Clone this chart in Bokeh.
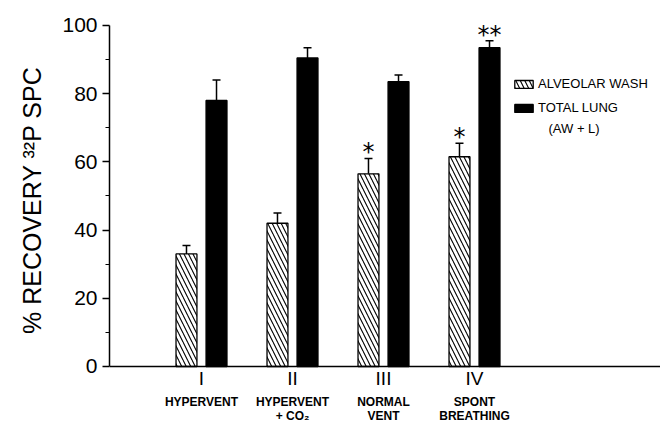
from bokeh.plotting import figure
from bokeh.models import (Range1d, FixedTicker, Whisker, TeeHead, ColumnDataSource,
                          Legend, LegendItem, Label, Span)
from bokeh.core.properties import value
from bokeh.embed import file_html
from bokeh.resources import INLINE

# ---- data ----
groups = ["I", "II", "III", "IV"]
group_line1 = ["HYPERVENT", "HYPERVENT", "NORMAL", "SPONT"]
group_line2 = ["", "+ CO\u2082", "VENT", "BREATHING"]
alveolar_wash = [33, 42, 56.5, 61.5]
alveolar_wash_err = [2.5, 3, 4.5, 4]
total_lung = [78, 90.5, 83.5, 93.5]
total_lung_err = [6, 3, 2, 2]
aw_marks = ["", "", "*", "*"]
tl_marks = ["", "", "", "**"]
y_ticks = [0, 20, 40, 60, 80, 100]
y_minor = [10, 30, 50, 70, 90]
y_title = "% RECOVERY \u00b3\u00b2P SPC"

FONT = "Liberation Sans"
off = 0.165
bw = 0.23

xc = [i + 1 for i in range(len(groups))]
x_aw = [x - off for x in xc]
x_tl = [x + off for x in xc]

p = figure(width=660, height=426, x_range=Range1d(-0.011, 6.044), y_range=Range1d(-17.6, 102.93),
           x_axis_location=None, output_backend="svg", toolbar_location=None,
           min_border_left=109, min_border_right=0, min_border_top=15, min_border_bottom=0)
p.outline_line_color = None
p.xgrid.grid_line_color = None
p.ygrid.grid_line_color = None

ax = p.yaxis[0]
ax.ticker = FixedTicker(ticks=y_ticks, minor_ticks=y_minor)
ax.bounds = (0, 100)
ax.axis_line_width = 1.5
ax.axis_line_color = "black"
ax.major_tick_line_color = "black"
ax.major_tick_line_width = 1.5
ax.minor_tick_line_color = "black"
ax.minor_tick_line_width = 1.2
ax.major_tick_in = 0
ax.major_tick_out = 7
ax.minor_tick_in = 0
ax.minor_tick_out = 4
ax.major_label_text_font = FONT
ax.major_label_text_font_size = "21px"
ax.major_label_text_color = "black"
ax.major_label_standoff = 5
# leading no-break spaces lift the centred title to where the reference has it
ax.axis_label = "\u00a0" * 6 + y_title
ax.axis_label_text_font = FONT
ax.axis_label_text_font_size = "25px"
ax.axis_label_text_font_style = "normal"
ax.axis_label_text_color = "black"
ax.axis_label_standoff = 13

p.add_layout(Span(location=0, dimension="width", line_color="black", line_width=1.5))

r_aw = p.vbar(x=x_aw, top=alveolar_wash, bottom=0, width=bw, fill_color="white",
              line_color="black", line_width=1.3, hatch_pattern="\\", hatch_scale=9,
              hatch_weight=1.1, hatch_color="black")
r_tl = p.vbar(x=x_tl, top=total_lung, bottom=0, width=bw, fill_color="black",
              line_color="black", line_width=1.3)

for xs, tops, errs, marks in [(x_aw, alveolar_wash, alveolar_wash_err, aw_marks),
                              (x_tl, total_lung, total_lung_err, tl_marks)]:
    src = ColumnDataSource(dict(x=xs, lower=tops, upper=[t + e for t, e in zip(tops, errs)],
                                star_y=[t + e + 1.8 for t, e in zip(tops, errs)], marks=marks))
    p.add_layout(Whisker(source=src, base="x", lower="lower", upper="upper", lower_head=None,
                         upper_head=TeeHead(size=8, line_width=1.5, line_color="black"),
                         line_width=1.5, line_color="black"))
    p.text(x="x", y="star_y", text="marks", source=src, text_align="center",
           text_baseline="middle", text_font=value("DejaVu Sans"), text_font_size="24px",
           text_color="black")

# category labels
p.text(x=xc, y=[-3.5] * 4, text=groups, text_align="center", text_baseline="middle",
       text_font=value(FONT), text_font_size="19px", text_color="black")
p.text(x=xc, y=[-10.3] * 4, text=group_line1, text_align="center", text_baseline="middle",
       text_font=value(FONT), text_font_style="bold", text_font_size="12px", text_color="black")
p.text(x=xc, y=[-14.5] * 4, text=group_line2, text_align="center", text_baseline="middle",
       text_font=value(FONT), text_font_style="bold", text_font_size="12px", text_color="black")

legend = Legend(items=[LegendItem(label="ALVEOLAR WASH", renderers=[r_aw]),
                       LegendItem(label="TOTAL LUNG", renderers=[r_tl])],
                location=(403, 311), glyph_width=23, glyph_height=10, label_height=14,
                label_text_font=FONT, label_text_font_size="13px", label_text_color="black",
                padding=0, margin=0, spacing=9, label_standoff=3,
                border_line_color=None, background_fill_alpha=0)
p.add_layout(legend)
p.add_layout(Label(x=4.813, y=69.8, text="(AW + L)", text_align="left", text_baseline="middle",
                   text_font=FONT, text_font_size="13px", text_color="black"))

open("out.html", "w").write(file_html(p, INLINE))
